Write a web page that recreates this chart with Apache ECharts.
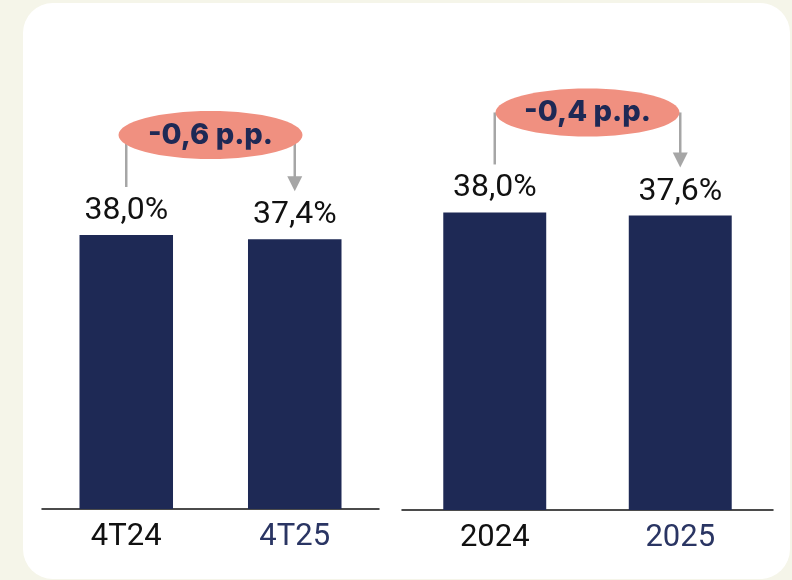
<!DOCTYPE html>
<html>
<head>
<meta charset="utf-8">
<script src="https://cdn.jsdelivr.net/npm/echarts@6/dist/echarts.min.js"></script>
<style>
  html, body { margin: 0; padding: 0; background: #f5f5e9; }
  #card { position: absolute; left: 23px; top: 3px; width: 767px; height: 576px; background: #fff; border-radius: 30px; }
  #chart { position: absolute; left: 0; top: 0; width: 792px; height: 580px; }
</style>
</head>
<body>
<div id="card"></div>
<div id="chart"></div>
<script>
// quarterly and annual values (%)
var quarterCats = ['4T24', '4T25'];
var quarterValues = [38.0, 37.4];
var yearCats = ['2024', '2025'];
var yearValues = [38.0, 37.6];
var deltaLabels = ['-0,6 p.p.', '-0,4 p.p.'];

var navy = '#1e2955';
var catColors = ['#111111', '#2a3563'];

function catData(cats) {
    return cats.map(function (c, i) {
        return { value: c, textStyle: { color: catColors[i] } };
    });
}

function pct(p) {
    return p.value.toFixed(1).replace('.', ',') + '%';
}

var chart = echarts.init(document.getElementById('chart'));

var xBase = {
    type: 'category',
    axisTick: { show: false },
    axisLine: { lineStyle: { color: '#111', width: 1.5 } },
    axisLabel: { fontFamily: 'Roboto', fontSize: 31, margin: 13 }
};
var yBase = { type: 'value', min: 0, max: 50, show: false, splitLine: { show: false } };
var barBase = {
    type: 'bar',
    barWidth: '55.5%',
    itemStyle: { color: navy },
    label: {
        show: true, position: 'top', distance: 8,
        fontFamily: 'Roboto', fontSize: 32, color: '#111',
        formatter: pct
    }
};

chart.setOption({
    animation: false,
    grid: [
        { left: 42, right: 413, top: 148.5, bottom: 71 },
        { left: 402, right: 19, top: 118.5, bottom: 70 }
    ],
    xAxis: [
        Object.assign({ gridIndex: 0, data: catData(quarterCats) }, xBase),
        Object.assign({ gridIndex: 1, data: catData(yearCats) }, xBase)
    ],
    yAxis: [
        Object.assign({ gridIndex: 0 }, yBase),
        Object.assign({ gridIndex: 1 }, yBase)
    ],
    series: [
        Object.assign({ xAxisIndex: 0, yAxisIndex: 0, data: quarterValues }, barBase),
        Object.assign({ xAxisIndex: 1, yAxisIndex: 1, data: yearValues }, barBase)
    ]
});

// change bubbles and arrows, placed from the bar positions
var groups = [[0, quarterCats, quarterValues], [1, yearCats, yearValues]];
var elements = [];
groups.forEach(function (g, k) {
    var p0 = chart.convertToPixel({ gridIndex: g[0] }, [g[1][0], g[2][0]]);
    var p1 = chart.convertToPixel({ gridIndex: g[0] }, [g[1][1], g[2][1]]);
    var cy = Math.min(p0[1], p1[1]) - 100;
    var cx = (p0[0] + p1[0]) / 2;
    var grey = '#a6a6a6';
    elements.push({
        type: 'line', z: 1,
        shape: { x1: p0[0], y1: cy, x2: p0[0], y2: p0[1] - 48 },
        style: { stroke: grey, lineWidth: 2.5 }
    });
    elements.push({
        type: 'line', z: 1,
        shape: { x1: p1[0], y1: cy, x2: p1[0], y2: p1[1] - 60 },
        style: { stroke: grey, lineWidth: 2.5 }
    });
    elements.push({
        type: 'polygon', z: 1,
        shape: { points: [[p1[0] - 7.5, p1[1] - 63], [p1[0] + 7.5, p1[1] - 63], [p1[0], p1[1] - 48]] },
        style: { fill: grey }
    });
    elements.push({
        type: 'ellipse', z: 2,
        shape: { cx: cx, cy: cy, rx: 92, ry: 24 },
        style: { fill: '#f09080' }
    });
    elements.push({
        type: 'text', z: 3,
        x: cx, y: cy,
        style: {
            text: deltaLabels[k], fill: navy,
            font: '800 29px Inter', align: 'center', verticalAlign: 'middle'
        }
    });
});
chart.setOption({ graphic: elements });
</script>
</body>
</html>
